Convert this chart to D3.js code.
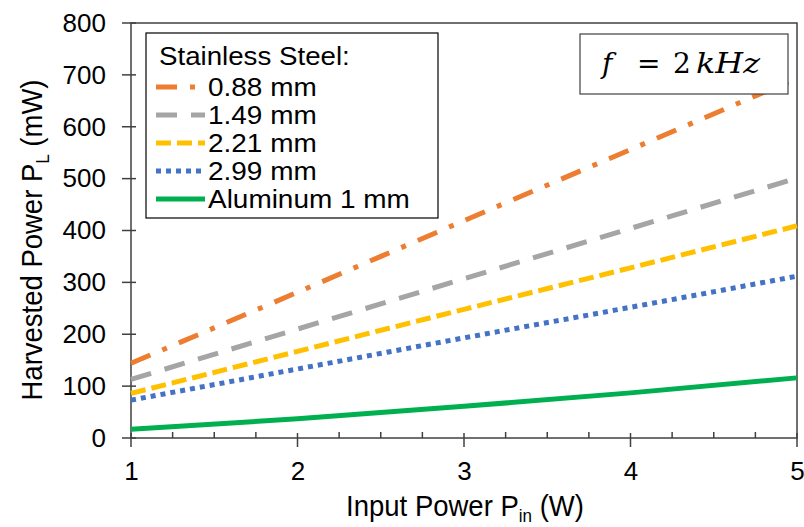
<!DOCTYPE html>
<html><head><meta charset="utf-8">
<script src="https://cdn.jsdelivr.net/npm/d3@7"></script>
<style>
html,body{margin:0;padding:0;background:#fff;}
text{font-family:"Liberation Sans",Arial,sans-serif;fill:#000;}
</style></head>
<body><svg id="c" width="804" height="527"></svg>
<script>
const inputPower = [1, 2, 3, 4, 5];
const seriesNames = ["0.88 mm", "1.49 mm", "2.21 mm", "2.99 mm", "Aluminum 1 mm"];
const ss088 = [144, 281, 419, 556, 694];
const ss149 = [113, 210, 307, 404, 501];
const ss221 = [86, 167, 248, 328, 409];
const ss299 = [73, 133, 193, 252, 312];
const al100 = [17, 37, 61, 87, 116];
const xTicks = [1, 2, 3, 4, 5];
const yTicks = [0, 100, 200, 300, 400, 500, 600, 700, 800];

const colors = ["#ED7D31", "#A5A5A5", "#FFC000", "#4472C4", "#00B050"];
const dashes = ["21,13,5,13", "21,14", "15,6", "5,5", null];
const allSeries = [ss088, ss149, ss221, ss299, al100];

const svg = d3.select("#c");
const L = 131, R = 797, T = 23, B = 438;
const x = d3.scaleLinear().domain([1, 5]).range([L, R]);
const y = d3.scaleLinear().domain([0, 800]).range([B, T]);
const axisColor = "#404040";

// plot border
svg.append("rect").attr("x", L).attr("y", T).attr("width", R - L).attr("height", B - T)
  .attr("fill", "none").attr("stroke", axisColor).attr("stroke-width", 1.5);

// y axis
const yAxis = d3.axisLeft(y).tickValues(yTicks).tickSize(0).tickPadding(25);
const gy = svg.append("g").attr("transform", `translate(${L},0)`).call(yAxis);
gy.select(".domain").remove();
gy.selectAll("text").style("font-size", "26px").style("font-family", "Liberation Sans, Arial, sans-serif").attr("fill", "#000");
svg.append("g").selectAll("line").data(yTicks).join("line")
  .attr("x1", L - 9).attr("x2", L + 5).attr("y1", d => y(d)).attr("y2", d => y(d))
  .attr("stroke", axisColor).attr("stroke-width", 1.5);

// x axis
const xAxis = d3.axisBottom(x).tickValues(xTicks).tickFormat(d3.format("d")).tickSize(0).tickPadding(24);
const gx = svg.append("g").attr("transform", `translate(0,${B})`).call(xAxis);
gx.select(".domain").remove();
gx.selectAll("text").style("font-size", "26px").style("font-family", "Liberation Sans, Arial, sans-serif").attr("fill", "#000");
svg.append("g").selectAll("line").data(xTicks).join("line")
  .attr("x1", d => x(d)).attr("x2", d => x(d)).attr("y1", B - 5).attr("y2", B + 9)
  .attr("stroke", axisColor).attr("stroke-width", 1.5);
const minor = d3.range(1, 5.001, 0.25).filter(v => Math.abs(v - Math.round(v)) > 0.01);
svg.append("g").selectAll("line").data(minor).join("line")
  .attr("x1", d => x(d)).attr("x2", d => x(d)).attr("y1", B - 6).attr("y2", B)
  .attr("stroke", axisColor).attr("stroke-width", 1.5);

// lines
const line = d3.line().x((d, i) => x(inputPower[i])).y(d => y(d)).curve(d3.curveMonotoneX);
allSeries.forEach((s, k) => {
  const p = svg.append("path").datum(s).attr("d", line).attr("fill", "none")
    .attr("stroke", colors[k]).attr("stroke-width", 5);
  if (dashes[k]) p.attr("stroke-dasharray", dashes[k]);
});

// legend
const lg = svg.append("g");
lg.append("rect").attr("x", 146).attr("y", 33).attr("width", 292).attr("height", 185)
  .attr("fill", "#fff").attr("stroke", "#000").attr("stroke-width", 1.2);
lg.append("text").attr("transform", "translate(159,65) scale(1.065,1)").style("font-size", "26px").text("Stainless Steel:");
seriesNames.forEach((n, k) => {
  const cy = 87 + k * 28;
  const ln = lg.append("line").attr("x1", 156).attr("x2", 205).attr("y1", cy).attr("y2", cy)
    .attr("stroke", colors[k]).attr("stroke-width", 5);
  if (dashes[k]) ln.attr("stroke-dasharray", dashes[k]);
  lg.append("text").attr("transform", `translate(208,${cy + 9}) scale(1.075,1)`).style("font-size", "26px").text(n);
});

// f box
svg.append("rect").attr("x", 580).attr("y", 34).attr("width", 208).attr("height", 60)
  .attr("fill", "#fff").attr("stroke", "#404040").attr("stroke-width", 1.2);
const ft = svg.append("text").attr("y", 73)
  .style("font-family", "'DejaVu Serif', serif").style("font-size", "28px");
ft.append("tspan").attr("x", 602).style("font-style", "italic").text("f");
ft.append("tspan").attr("x", 637).text("=");
ft.append("tspan").attr("x", 673).text("2");
ft.append("tspan").attr("x", 696).attr("textLength", 64).attr("lengthAdjust", "spacingAndGlyphs")
  .style("font-style", "italic").text("kHz");

// axis titles
const yt = svg.append("text").attr("transform", "translate(42,240) rotate(-90) scale(1,1.1)")
  .attr("text-anchor", "middle").style("font-size", "27.5px");
yt.append("tspan").text("Harvested Power P");
yt.append("tspan").attr("dy", 6).style("font-size", "17px").text("L");
yt.append("tspan").attr("dy", -6).text(" (mW)");

const xt = svg.append("text").attr("transform", "translate(465,516) scale(1,1.06)")
  .attr("text-anchor", "middle").style("font-size", "27.5px");
xt.append("tspan").text("Input Power P");
xt.append("tspan").attr("dy", 6).style("font-size", "17px").text("in");
xt.append("tspan").attr("dy", -6).text(" (W)");
</script></body></html>
